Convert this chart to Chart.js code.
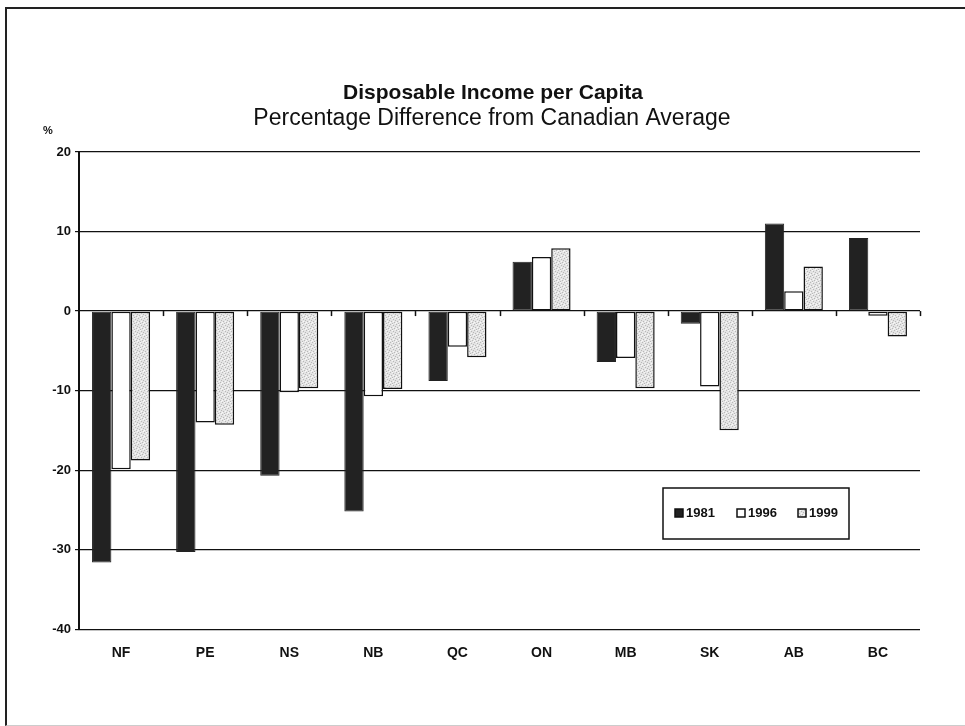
<!DOCTYPE html>
<html>
<head>
<meta charset="utf-8">
<title>Disposable Income per Capita</title>
<script src="https://cdn.jsdelivr.net/npm/chart.js@4.4.1/dist/chart.umd.min.js"></script>
<style>
  body { margin: 0; background: #fff; }
  #frame {
    position: absolute; left: 5px; top: 7px; width: 965px; height: 716px;
    border-left: 2px solid #222; border-top: 2px solid #222; border-bottom: 1px solid #ccc;
  }
  #wrap { position: absolute; left: 0; top: 0; width: 965px; height: 726px; }
</style>
</head>
<body>
<div id="frame"></div>
<div id="wrap"><canvas id="income"></canvas></div>
<script>
//----- DATA -----//
const provinces = ['NF', 'PE', 'NS', 'NB', 'QC', 'ON', 'MB', 'SK', 'AB', 'BC'];
const years = ['1981', '1996', '1999'];
const values1981 = [-31.6, -30.3, -20.7, -25.2, -8.8, 6.2, -6.4, -1.6, 11.0, 9.2];
const values1996 = [-19.9, -14.0, -10.2, -10.7, -4.5, 6.8, -5.9, -9.5, 2.5, -0.6];
const values1999 = [-18.8, -14.3, -9.7, -9.8, -5.8, 7.9, -9.7, -15.0, 5.6, -3.2];
const yTicks = [20, 10, 0, -10, -20, -30, -40];

const titleText = 'Disposable Income per Capita';
const subtitleText = 'Percentage Difference from Canadian Average';

const FONT = '"Liberation Sans", Arial, sans-serif';

// speckled light grey fill for 1999
function speckle() {
    const c = document.createElement('canvas');
    c.width = 6; c.height = 6;
    const g = c.getContext('2d');
    g.fillStyle = '#e4e4e4';
    g.fillRect(0, 0, 6, 6);
    g.fillStyle = '#b8b8b8';
    [[0, 0], [3, 1], [1, 3], [4, 4], [5, 2], [2, 5]].forEach(p => g.fillRect(p[0], p[1], 1, 1));
    g.fillStyle = '#f8f8f8';
    [[2, 0], [5, 5], [0, 4], [3, 3]].forEach(p => g.fillRect(p[0], p[1], 1, 1));
    return g.createPattern(c, 'repeat');
}
const greyFill = speckle();

//----- PLUGINS -----//
// titles, "%" label over the y axis, little category ticks on the zero line
const extras = {
    id: 'extras',
    afterDraw(chart) {
        const ctx = chart.ctx;
        const x = chart.scales.x, y = chart.scales.y;
        const y0 = y.getPixelForValue(0);
        ctx.save();
        ctx.strokeStyle = '#111';
        ctx.lineWidth = 1.5;
        const step = (x.right - x.left) / provinces.length;
        for (let i = 1; i <= provinces.length; i++) {
            const px = Math.round(x.left + step * i) + 0.5;
            ctx.beginPath();
            ctx.moveTo(px, y0);
            ctx.lineTo(px, y0 + 5);
            ctx.stroke();
        }
        ctx.fillStyle = '#111';
        ctx.textAlign = 'center';
        ctx.textBaseline = 'middle';
        ctx.font = 'bold 11px ' + FONT;
        ctx.fillText('%', 48, 131);
        ctx.font = 'bold 21px ' + FONT;
        ctx.fillText(titleText, 493, 93);
        ctx.font = '23px ' + FONT;
        ctx.fillText(subtitleText, 492, 119);
        ctx.restore();
    }
};

// boxed legend inside the plot
const boxLegend = {
    id: 'boxLegend',
    afterDraw(chart) {
        const ctx = chart.ctx;
        const bx = 663, by = 488, bw = 186, bh = 51;
        ctx.save();
        ctx.fillStyle = '#fff';
        ctx.fillRect(bx, by, bw, bh);
        ctx.strokeStyle = '#111';
        ctx.lineWidth = 1.5;
        ctx.strokeRect(bx, by, bw, bh);
        ctx.font = 'bold 13px ' + FONT;
        ctx.textBaseline = 'middle';
        const cy = by + 25;
        const starts = [675, 737, 798];
        chart.data.datasets.forEach((ds, i) => {
            const sx = starts[i];
            ctx.fillStyle = ds.backgroundColor;
            ctx.fillRect(sx, cy - 4, 8, 8);
            ctx.strokeStyle = '#111';
            ctx.lineWidth = 1.5;
            ctx.strokeRect(sx, cy - 4, 8, 8);
            ctx.fillStyle = '#111';
            ctx.fillText(ds.label, sx + 11, cy);
        });
        ctx.restore();
    }
};

//----- CONFIG -----//
const data = {
    labels: provinces,
    datasets: [{
        label: years[0],
        data: values1981,
        backgroundColor: '#222222',
        borderColor: '#222222',
        borderWidth: 1
    }, {
        label: years[1],
        data: values1996,
        backgroundColor: '#ffffff',
        borderColor: '#111111',
        borderWidth: 1.5
    }, {
        label: years[2],
        data: values1999,
        backgroundColor: greyFill,
        borderColor: '#111111',
        borderWidth: 1.5
    }]
};

const config = {
    type: 'bar',
    data: data,
    plugins: [extras, boxLegend],
    options: {
        responsive: false,
        animation: false,
        layout: { padding: { top: 152, right: 45, bottom: 56, left: 0 } },
        datasets: {
            bar: { categoryPercentage: 0.69, barPercentage: 1.0, borderSkipped: false }
        },
        plugins: {
            legend: { display: false },
            tooltip: { enabled: false },
            title: { display: false },
            subtitle: { display: false }
        },
        scales: {
            x: {
                grid: { display: false },
                border: { display: false },
                ticks: { color: '#111', font: { family: FONT, size: 14, weight: 'bold' }, padding: 8 }
            },
            y: {
                min: -40,
                max: 20,
                afterBuildTicks(scale) { scale.ticks = yTicks.map(v => ({ value: v })); },
                afterFit(scale) { scale.width = 79; },
                grid: { color: '#111', lineWidth: 1.2, tickLength: 4, tickColor: '#111' },
                border: { display: true, color: '#111', width: 2 },
                ticks: { color: '#111', font: { family: FONT, size: 13, weight: 'bold' }, padding: 4 }
            }
        }
    }
};

//----- RENDER -----//
const canvas = document.getElementById('income');
canvas.width = 965;
canvas.height = 726;
const incomeChart = new Chart(canvas, config);
</script>
</body>
</html>
